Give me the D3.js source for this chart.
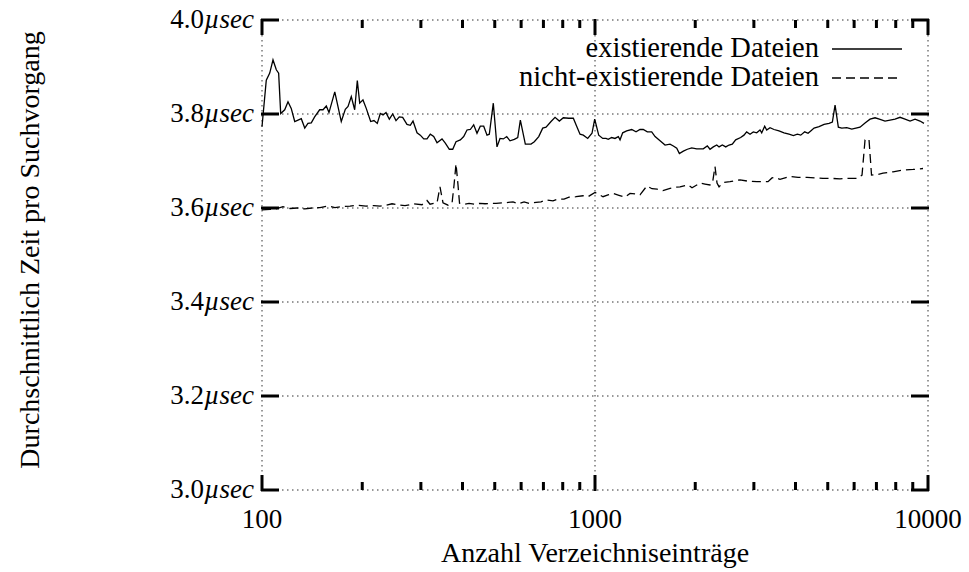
<!DOCTYPE html>
<html>
<head>
<meta charset="utf-8">
<script src="https://cdn.jsdelivr.net/npm/d3@7"></script>
<style>
  body { margin: 0; background: #fff; }
  text { font-family: "Liberation Serif", "DejaVu Serif", serif; fill: #000; }
</style>
</head>
<body>
<div id="chart"></div>
<script>
// existing files (solid line)
const existX = [100, 103, 105.5, 107.9, 110.4, 112.2, 113.8, 117, 119.7, 122.4, 125.4, 128.3, 131.2, 134.4, 137.4, 140.6,
  143.9, 149, 152.5, 156, 158.9, 165.4, 173, 177.9, 181.3, 185.4, 189.8, 193.3, 196.5, 201, 205.6, 212, 216.9, 221.9,
  226.6, 230.9, 235.7, 241.2, 246.9, 252.6, 258.4, 264.5, 272.5, 278.8, 284.1, 292.1, 298.8, 306, 313, 320.2, 327.8,
  335.4, 347.2, 355.2, 365.2, 373.9, 382.5, 394.1, 403.4, 412.7, 422.2, 432.2, 442.2, 452.4, 463.2, 473.9, 481.5, 495,
  507.8, 518.5, 530.5, 543.1, 555.6, 572.4, 586.1, 596.8, 617.7, 642.5, 657.3, 677.7, 696.6, 712.8, 737.9, 758.6, 781.5,
  803.4, 833.9, 860.9, 877.1, 901.6, 922.4, 950.9, 979.5, 998, 1026, 1055, 1079, 1096, 1122, 1148, 1175, 1189, 1211,
  1245, 1289, 1328, 1365, 1396, 1436, 1480, 1515, 1568, 1623, 1680, 1719, 1760, 1792, 1842, 1894, 1952, 2020, 2114,
  2174, 2215, 2266, 2321, 2358, 2412, 2470, 2527, 2584, 2645, 2738, 2801, 2854, 2921, 2988, 3059, 3130, 3167, 3233,
  3278, 3354, 3448, 3569, 3695, 3825, 3942, 4052, 4148, 4264, 4363, 4445, 4548, 4708, 4874, 5046, 5162, 5259, 5380,
  5508, 5702, 5903, 6250, 6470, 6698, 6934, 7143, 7429, 7691, 7962, 8242, 8532, 8833, 9144, 9462, 9727];
const existY = [3.773, 3.872, 3.887, 3.915, 3.894, 3.887, 3.801, 3.809, 3.826, 3.812, 3.784, 3.787, 3.790, 3.770, 3.780,
  3.781, 3.794, 3.809, 3.809, 3.817, 3.803, 3.847, 3.784, 3.810, 3.816, 3.837, 3.809, 3.871, 3.823, 3.830, 3.812, 3.784,
  3.786, 3.780, 3.801, 3.798, 3.803, 3.789, 3.800, 3.786, 3.794, 3.793, 3.778, 3.776, 3.785, 3.760, 3.755, 3.747, 3.747,
  3.757, 3.752, 3.739, 3.747, 3.738, 3.725, 3.725, 3.741, 3.745, 3.752, 3.766, 3.767, 3.777, 3.759, 3.774, 3.774, 3.755,
  3.757, 3.823, 3.730, 3.748, 3.747, 3.752, 3.743, 3.746, 3.750, 3.787, 3.736, 3.736, 3.741, 3.752, 3.770, 3.772, 3.784,
  3.793, 3.785, 3.792, 3.791, 3.791, 3.777, 3.757, 3.755, 3.748, 3.759, 3.789, 3.755, 3.748, 3.748, 3.746, 3.750, 3.748,
  3.752, 3.745, 3.760, 3.764, 3.767, 3.762, 3.767, 3.767, 3.762, 3.762, 3.752, 3.743, 3.734, 3.736, 3.732, 3.727, 3.716,
  3.721, 3.725, 3.728, 3.726, 3.726, 3.732, 3.725, 3.730, 3.734, 3.730, 3.734, 3.730, 3.734, 3.736, 3.745, 3.750, 3.755,
  3.762, 3.757, 3.762, 3.760, 3.766, 3.760, 3.774, 3.766, 3.771, 3.767, 3.764, 3.760, 3.757, 3.754, 3.757, 3.755, 3.762,
  3.759, 3.764, 3.770, 3.773, 3.778, 3.780, 3.783, 3.819, 3.772, 3.770, 3.771, 3.768, 3.772, 3.781, 3.789, 3.792, 3.789,
  3.785, 3.787, 3.789, 3.793, 3.789, 3.785, 3.789, 3.785, 3.780];

// non-existing files (dashed line)
const missX = [100, 105.7, 110.2, 115.6, 121.4, 127.4, 134.6, 141.3, 149.3, 157.8, 165.6, 173.9, 183.8, 194.2, 205.3,
  216.9, 226.1, 235.7, 245.7, 259.7, 268.8, 286.1, 302.4, 313, 319.6, 328.5, 335.4, 342.4, 349.6, 362, 372.1, 377.3,
  382.5, 387.8, 391.9, 404.3, 418.5, 436.2, 451.6, 467.5, 487.3, 504.4, 533, 567.4, 587.5, 612.4, 633.8, 665.1, 688.5,
  712.8, 747.9, 774.2, 807.3, 835.6, 877.1, 920.4, 952.8, 972.8, 1000, 1057, 1094, 1133, 1180, 1231, 1274, 1318, 1365,
  1432, 1483, 1536, 1600, 1680, 1739, 1800, 1903, 1956, 2067, 2139, 2215, 2253, 2293, 2325, 2358, 2424, 2544, 2726,
  2881, 3066, 3308, 3400, 3471, 3594, 3721, 3852, 4072, 4332, 4578, 4838, 5148, 5441, 5754, 6121, 6337, 6470, 6560,
  6651, 6767, 7030, 7328, 7853, 8414, 9016, 9661];
const missY = [3.596, 3.597, 3.598, 3.603, 3.599, 3.600, 3.598, 3.600, 3.601, 3.604, 3.601, 3.603, 3.604, 3.606, 3.604,
  3.605, 3.604, 3.606, 3.609, 3.606, 3.605, 3.609, 3.607, 3.616, 3.608, 3.610, 3.611, 3.645, 3.611, 3.606, 3.610, 3.649,
  3.694, 3.649, 3.610, 3.608, 3.610, 3.608, 3.610, 3.609, 3.610, 3.610, 3.611, 3.613, 3.609, 3.613, 3.610, 3.612, 3.613,
  3.617, 3.615, 3.619, 3.619, 3.623, 3.624, 3.626, 3.624, 3.628, 3.633, 3.624, 3.628, 3.631, 3.627, 3.623, 3.631, 3.630,
  3.628, 3.647, 3.641, 3.640, 3.637, 3.642, 3.644, 3.645, 3.649, 3.643, 3.653, 3.651, 3.649, 3.653, 3.688, 3.653, 3.645,
  3.654, 3.656, 3.660, 3.657, 3.656, 3.656, 3.664, 3.665, 3.661, 3.664, 3.667, 3.665, 3.665, 3.664, 3.663, 3.663, 3.662,
  3.663, 3.663, 3.670, 3.745, 3.748, 3.745, 3.670, 3.671, 3.674, 3.677, 3.681, 3.682, 3.684];

const yTicks = [3.0, 3.2, 3.4, 3.6, 3.8, 4.0];
const xTicks = [100, 1000, 10000];
const xMinor = [200, 300, 400, 500, 600, 700, 800, 900, 2000, 3000, 4000, 5000, 6000, 7000, 8000, 9000];
const seriesNames = ["existierende Dateien", "nicht-existierende Dateien"];

const width = 969, height = 572;
const svg = d3.select("#chart").append("svg")
  .attr("width", width)
  .attr("height", height);

const x = d3.scaleLog().domain([100, 10000]).range([262, 928]);
const y = d3.scaleLinear().domain([3.0, 4.0]).range([490, 20]);

// dotted grid (also acts as the frame)
const grid = svg.append("g")
  .attr("stroke", "#333")
  .attr("stroke-width", 1)
  .attr("stroke-dasharray", "1.5,3.5");
grid.selectAll("line.h").data(yTicks).join("line")
  .attr("x1", x(100)).attr("x2", x(10000))
  .attr("y1", d => y(d)).attr("y2", d => y(d));
grid.selectAll("line.v").data(xTicks).join("line")
  .attr("x1", d => x(d)).attr("x2", d => x(d))
  .attr("y1", y(4.0)).attr("y2", y(3.0));

// bold tick marks, inward on all four sides
const ticks = svg.append("g").attr("stroke", "#000").attr("stroke-width", 3);
yTicks.forEach(v => {
  ticks.append("line").attr("x1", x(100) - 1).attr("x2", x(100) + 17).attr("y1", y(v)).attr("y2", y(v));
  ticks.append("line").attr("x1", x(10000) - 17).attr("x2", x(10000) + 1).attr("y1", y(v)).attr("y2", y(v));
});
xTicks.forEach(v => {
  ticks.append("line").attr("x1", x(v)).attr("x2", x(v)).attr("y1", y(3.0) + 1).attr("y2", y(3.0) - 15);
  ticks.append("line").attr("x1", x(v)).attr("x2", x(v)).attr("y1", y(4.0) - 1).attr("y2", y(4.0) + 15);
});
xMinor.forEach(v => {
  ticks.append("line").attr("x1", x(v)).attr("x2", x(v)).attr("y1", y(3.0)).attr("y2", y(3.0) - 8);
  ticks.append("line").attr("x1", x(v)).attr("x2", x(v)).attr("y1", y(4.0)).attr("y2", y(4.0) + 8);
});

// y tick labels
const yl = svg.append("g").attr("font-size", 27).attr("text-anchor", "end");
yTicks.forEach(v => {
  const t = yl.append("text").attr("x", 254).attr("y", y(v) + 8);
  t.append("tspan").text(v.toFixed(1));
  t.append("tspan").attr("font-style", "italic").text("µsec");
});

// x tick labels
svg.append("g").attr("font-size", 27).attr("text-anchor", "middle")
  .selectAll("text").data(xTicks).join("text")
  .attr("x", d => x(d)).attr("y", 528)
  .text(d => d);

// axis titles
svg.append("text").attr("font-size", 28).attr("text-anchor", "middle")
  .attr("x", 595).attr("y", 562)
  .text("Anzahl Verzeichniseinträge");
svg.append("text").attr("font-size", 28).attr("text-anchor", "middle")
  .attr("transform", "translate(39,250) rotate(-90)")
  .text("Durchschnittlich Zeit pro Suchvorgang");

// data lines
const line = d3.line().x(d => x(d[0])).y(d => y(d[1]));
svg.append("path")
  .datum(d3.zip(existX, existY))
  .attr("fill", "none").attr("stroke", "#000").attr("stroke-width", 1.3)
  .attr("d", line);
svg.append("path")
  .datum(d3.zip(missX, missY))
  .attr("fill", "none").attr("stroke", "#000").attr("stroke-width", 1.3)
  .attr("stroke-dasharray", "9,5")
  .attr("d", line);

// legend
const legend = svg.append("g");
seriesNames.forEach((name, i) => {
  const ly = 49 + i * 29;
  legend.append("text").attr("font-size", 28.5).attr("text-anchor", "end")
    .attr("x", 819).attr("y", ly + 8).text(name);
  legend.append("line").attr("x1", 832).attr("x2", 902).attr("y1", ly).attr("y2", ly)
    .attr("stroke", "#000").attr("stroke-width", 1.3)
    .attr("stroke-dasharray", i === 1 ? "9,5" : null);
});
</script>
</body>
</html>
